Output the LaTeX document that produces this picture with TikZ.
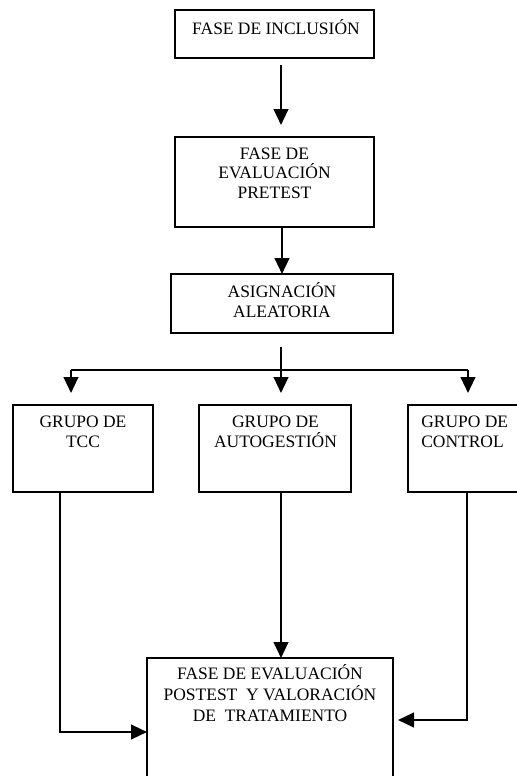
\documentclass[tikz,border=0pt]{standalone}
\usepackage{fontspec}
\setmainfont{Liberation Serif}
\usetikzlibrary{arrows.meta}
\begin{document}
\begin{tikzpicture}[x=0.75pt,y=-0.75pt,
  box/.style={draw, line width=1.2pt, inner sep=0pt, outer sep=0pt},
  lbl/.style={font=\fontsize{13.1}{14.8}\selectfont, align=center, inner sep=0pt, anchor=base},
  arr/.style={line width=1.7pt, -{Triangle[width=11pt,length=12pt]}},
  ln/.style={line width=1.7pt}]
\useasboundingbox (0,0) rectangle (517,776);
\clip (0,0) rectangle (517,776);
% boxes
\node[box, minimum width=149.25pt, minimum height=36pt] (b1) at (274.5,34) {};
\node[box, minimum width=149.25pt, minimum height=67.5pt] (b2) at (274.5,182) {};
\node[box, minimum width=166.5pt, minimum height=44.25pt] (b3) at (282,303.5) {};
\node[box, minimum width=105pt, minimum height=65.25pt] (g1) at (83,448.5) {};
\node[box, minimum width=114pt, minimum height=65.25pt] (g2) at (275,448.5) {};
\node[box, minimum width=99pt, minimum height=65.25pt] (g3) at (474,448.5) {};
\node[box, minimum width=184.5pt, minimum height=106.5pt] (fin) at (270,729) {};
% texts (anchored at the baseline of the last line)
\node[lbl] (t1) at (276,34) {FASE DE INCLUSIÓN};
\node[lbl] (t2) at (274.5,198.5) {FASE DE\\EVALUACIÓN\\PRETEST};
\node[lbl] (t3) at (282,317) {ASIGNACIÓN\\ALEATORIA};
\node[lbl] (tg1) at (83,447) {GRUPO DE\\TCC};
\node[lbl] (tg2) at (275.5,447) {GRUPO DE\\AUTOGESTIÓN};
\node[lbl, align=left, anchor=base west] (tg3) at (421,447) {GRUPO DE\\CONTROL};
\node[lbl, font=\fontsize{13.1}{15.75}\selectfont] (tf) at (270,721) {FASE DE EVALUACIÓN\\POSTEST\ \ Y VALORACIÓN\\DE\ \ TRATAMIENTO};
% connectors
\coordinate (x1) at (281,0);
\draw[arr, shorten <=5.25pt, shorten >=9pt] (b1.south -| x1) -- (b2.north -| x1);
\draw[arr] (b2.south -| b3.north) -- (b3.north);
\coordinate (j) at (281,370);
\coordinate (s1) at (71,370);
\coordinate (s3) at (468,370);
\draw[ln, shorten <=10.5pt] (b3.south -| j) -- (j);
\draw[ln] (s1) -- (s3);
\draw[arr, shorten >=9pt] (s1) -- (s1 |- g1.north);
\draw[arr, shorten >=9pt] (j) -- (j |- g2.north);
\draw[arr, shorten >=9pt] (s3) -- (s3 |- g3.north);
\coordinate (e1) at (60,732);
\coordinate (e3) at (467,720);
\draw[arr] (g1.south -| e1) |- (fin.west |- e1);
\draw[arr] (g2.south -| j) -- (fin.north -| j);
\draw[arr, shorten >=3.75pt] (g3.south -| e3) |- (fin.east |- e3);
\end{tikzpicture}
\end{document}
